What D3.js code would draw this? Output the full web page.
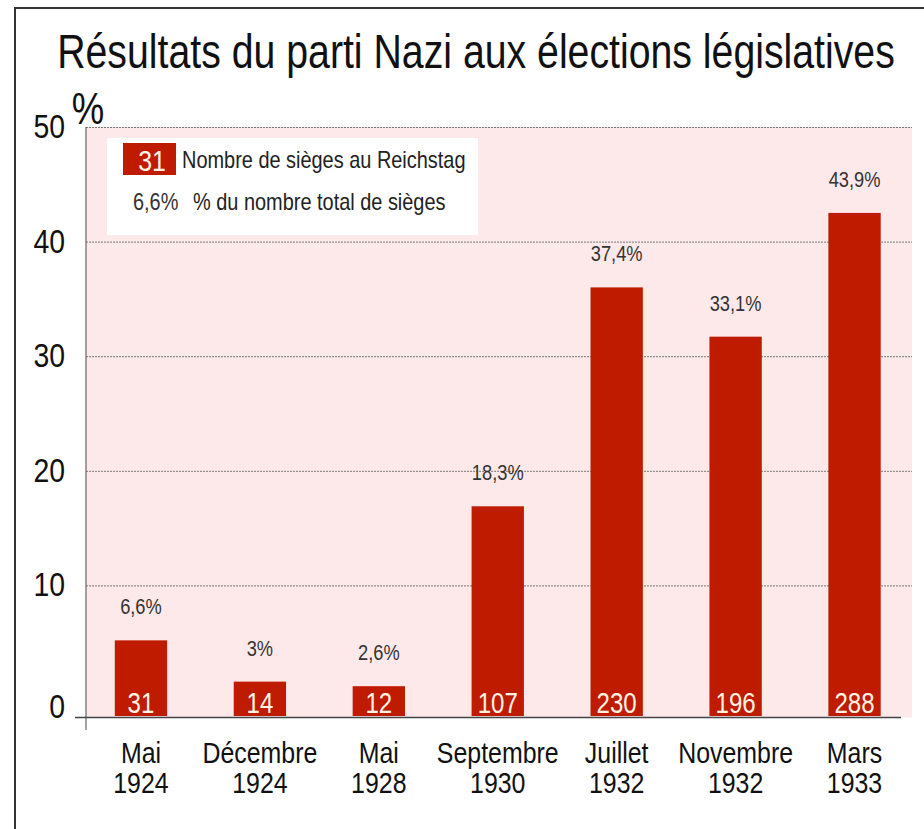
<!DOCTYPE html>
<html>
<head>
<meta charset="utf-8">
<title>Résultats du parti Nazi aux élections législatives</title>
<script src="https://d3js.org/d3.v7.min.js"></script>
<style>
	body { margin: 0; background: #fff; }
	text { font-family: "Liberation Sans", Arial, sans-serif; }
</style>
</head>
<body>
<div id="chart"></div>
<script>
// data
var categories = ["Mai 1924", "Décembre 1924", "Mai 1928", "Septembre 1930", "Juillet 1932", "Novembre 1932", "Mars 1933"];
var percentVotes = [6.6, 3, 2.6, 18.3, 37.4, 33.1, 43.9];
var seats = [31, 14, 12, 107, 230, 196, 288];
var yTicks = [0, 10, 20, 30, 40, 50];

var width = 924, height = 829;
var red = "#be1b00";
var narrow = 0.83; // original uses a condensed face

var data = categories.map(function(c, i) {
	return { cat: c, pct: percentVotes[i], seats: seats[i] };
});

function fmtPct(v) { return String(v).replace(".", ",") + "%"; }

// squeeze text horizontally (no narrow font installed)
function condense(sel, k) {
	sel.each(function() {
		var len = this.getComputedTextLength();
		d3.select(this)
			.attr("textLength", len * k)
			.attr("lengthAdjust", "spacingAndGlyphs");
	});
}

var svg = d3.select("#chart").append("svg")
	.attr("width", width)
	.attr("height", height);

// frame (top + left only, like the original crop)
svg.append("path")
	.attr("d", "M15,829 L15,8 L924,8")
	.attr("fill", "none")
	.attr("stroke", "#333")
	.attr("stroke-width", 2);

var x = d3.scaleBand()
	.domain(categories)
	.range([81.5, 914])
	.paddingInner(0.56)
	.paddingOuter(0.28);

var y = d3.scaleLinear()
	.domain([0, 50])
	.range([700, 127]);

// bars sit on the axis line, a bit below the 0 gridline
var barShift = 16;
var plotLeft = 86, plotRight = 912, axisY = 717.5;

// plot background
svg.append("rect")
	.attr("x", plotLeft)
	.attr("y", y(50))
	.attr("width", plotRight - plotLeft)
	.attr("height", axisY - y(50))
	.attr("fill", "#fde9ea");

// grid
var grid = svg.append("g")
	.attr("transform", "translate(" + plotLeft + ",0)")
	.call(d3.axisLeft(y).tickValues(yTicks.filter(function(d) { return d > 0; }))
		.tickSize(-(plotRight - plotLeft)).tickFormat(""));
grid.select(".domain").remove();
grid.selectAll("line")
	.attr("stroke", "#777")
	.attr("stroke-width", 1)
	.attr("stroke-dasharray", "2,1");

// y axis labels
var yAxis = svg.append("g")
	.attr("transform", "translate(" + plotLeft + ",0)")
	.call(d3.axisLeft(y).tickValues(yTicks).tickSize(0).tickPadding(21));
yAxis.select(".domain").remove();
yAxis.selectAll("text")
	.attr("font-size", 33)
	.attr("fill", "#111")
	.style("font-family", "'Liberation Sans', Arial, sans-serif")
	.call(condense, 0.86);
yAxis.selectAll("text").filter(function(d) { return d === 0; }).attr("y", 7);

svg.append("text")
	.attr("x", 88)
	.attr("y", 124)
	.attr("text-anchor", "middle")
	.attr("font-size", 44)
	.attr("fill", "#111")
	.text("%")
	.call(condense, narrow);

// bars
var bars = svg.append("g")
	.attr("transform", "translate(0," + barShift + ")");

bars.selectAll("rect")
	.data(data)
	.enter().append("rect")
	.attr("x", function(d) { return x(d.cat); })
	.attr("y", function(d) { return y(d.pct); })
	.attr("width", x.bandwidth())
	.attr("height", function(d) { return y(0) - y(d.pct); })
	.attr("fill", red);

bars.selectAll("text.pct")
	.data(data)
	.enter().append("text")
	.attr("class", "pct")
	.attr("x", function(d) { return x(d.cat) + x.bandwidth() / 2; })
	.attr("y", function(d) { return y(d.pct) - 26; })
	.attr("text-anchor", "middle")
	.attr("font-size", 22)
	.attr("fill", "#333")
	.text(function(d) { return fmtPct(d.pct); })
	.call(condense, narrow);

bars.selectAll("text.seats")
	.data(data)
	.enter().append("text")
	.attr("class", "seats")
	.attr("x", function(d) { return x(d.cat) + x.bandwidth() / 2; })
	.attr("y", y(0) - 3)
	.attr("text-anchor", "middle")
	.attr("font-size", 29)
	.attr("fill", "#fff3e4")
	.text(function(d) { return d.seats; })
	.call(condense, narrow);

// axes lines
svg.append("line")
	.attr("x1", plotLeft).attr("x2", plotLeft)
	.attr("y1", y(50)).attr("y2", 730)
	.attr("stroke", "#666").attr("stroke-width", 1.2);
svg.append("line")
	.attr("x1", 75).attr("x2", 901)
	.attr("y1", axisY).attr("y2", axisY)
	.attr("stroke", "#444").attr("stroke-width", 1.5);

// category labels (two lines)
var xl = svg.append("g").selectAll("text")
	.data(categories)
	.enter().append("text")
	.attr("text-anchor", "middle")
	.attr("font-size", 30)
	.attr("fill", "#111");
xl.append("tspan")
	.attr("x", function(d) { return x(d) + x.bandwidth() / 2; })
	.attr("y", 763)
	.text(function(d) { return d.split(" ")[0]; });
xl.append("tspan")
	.attr("x", function(d) { return x(d) + x.bandwidth() / 2; })
	.attr("y", 793)
	.text(function(d) { return d.split(" ")[1]; });
xl.selectAll("tspan").call(condense, narrow);

// title, squeezed with a transform so it spans 57..895
var title = svg.append("text")
	.attr("text-anchor", "middle")
	.attr("font-size", 48)
	.attr("fill", "#111")
	.text("Résultats du parti Nazi aux élections législatives");
var titleScale = 838 / title.node().getComputedTextLength();
title.attr("transform", "translate(476,68) scale(" + titleScale + ",1)");

// legend
var legend = svg.append("g");
legend.append("rect")
	.attr("x", 107).attr("y", 138)
	.attr("width", 371).attr("height", 97)
	.attr("fill", "#fff");
legend.append("rect")
	.attr("x", 123).attr("y", 143)
	.attr("width", 53).attr("height", 32)
	.attr("fill", red);
legend.append("text")
	.attr("x", 152).attr("y", 171)
	.attr("text-anchor", "middle")
	.attr("font-size", 30)
	.attr("fill", "#fff3e4")
	.text(seats[0])
	.call(condense, narrow);
legend.append("text")
	.attr("x", 182).attr("y", 168)
	.attr("font-size", 24)
	.attr("fill", "#222")
	.text("Nombre de sièges au Reichstag")
	.call(condense, narrow);
legend.append("text")
	.attr("x", 133).attr("y", 210)
	.attr("font-size", 24)
	.attr("fill", "#333")
	.text(fmtPct(percentVotes[0]))
	.call(condense, narrow);
legend.append("text")
	.attr("x", 193).attr("y", 210)
	.attr("font-size", 24)
	.attr("fill", "#222")
	.text("% du nombre total de sièges")
	.call(condense, narrow);
</script>
</body>
</html>
